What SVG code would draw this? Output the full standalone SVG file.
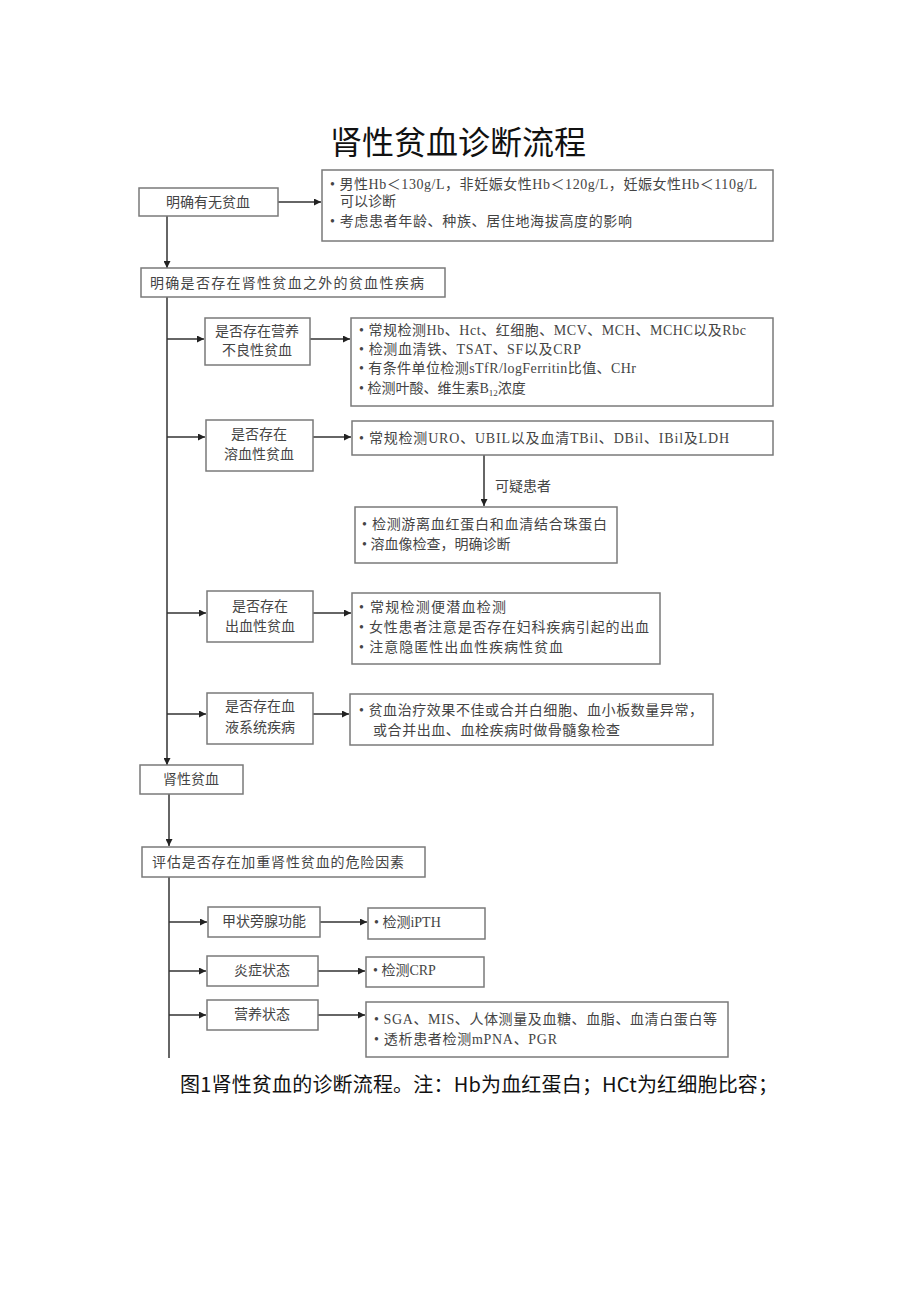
<svg xmlns="http://www.w3.org/2000/svg" width="920" height="1301" viewBox="0 0 920 1301">
<defs>
<marker id="ah" viewBox="0 0 10 10" refX="10" refY="5" markerWidth="7" markerHeight="7" orient="auto" markerUnits="userSpaceOnUse">
<path d="M0,0 L10,5 L0,10 z" fill="#222"/>
</marker>
<style>
.box{fill:#fff;stroke:#7a7a7a;stroke-width:1.5}
.t{font-family:"Liberation Serif","Noto Sans CJK SC",serif;font-size:14px;fill:#444}
.c{text-anchor:middle}
.ln{stroke:#333;stroke-width:1.5;fill:none}
.ar{stroke:#333;stroke-width:1.5;fill:none;marker-end:url(#ah)}
</style>
</defs>
<rect width="920" height="1301" fill="#fff"/>
<text x="458" y="154" text-anchor="middle" font-family="'Noto Sans CJK SC',sans-serif" font-size="32" fill="#111">肾性贫血诊断流程</text>

<g id="connectors">
<line class="ar" x1="278" y1="202" x2="321" y2="202"/>
<line class="ar" x1="167" y1="216" x2="167" y2="268"/>
<line class="ln" x1="167" y1="297" x2="167" y2="740"/>
<line class="ar" x1="167" y1="740" x2="167" y2="765"/>
<line class="ar" x1="167" y1="339" x2="204" y2="339"/>
<line class="ar" x1="310" y1="339" x2="350" y2="339"/>
<line class="ar" x1="167" y1="437" x2="205" y2="437"/>
<line class="ar" x1="313" y1="437" x2="351" y2="437"/>
<line class="ar" x1="484" y1="455" x2="484" y2="506"/>
<line class="ar" x1="167" y1="613" x2="206" y2="613"/>
<line class="ar" x1="313" y1="613" x2="351" y2="613"/>
<line class="ar" x1="167" y1="714" x2="206" y2="714"/>
<line class="ar" x1="313" y1="714" x2="349" y2="714"/>
<line class="ar" x1="169" y1="794" x2="169" y2="846"/>
<line class="ln" x1="169" y1="877" x2="169" y2="1058"/>
<line class="ar" x1="169" y1="922" x2="207" y2="922"/>
<line class="ar" x1="320" y1="922" x2="367" y2="922"/>
<line class="ar" x1="169" y1="971" x2="206" y2="971"/>
<line class="ar" x1="318" y1="971" x2="365" y2="971"/>
<line class="ar" x1="169" y1="1015" x2="206" y2="1015"/>
<line class="ar" x1="318" y1="1015" x2="365" y2="1015"/>
<text class="t" x="495" y="491">可疑患者</text>
</g>

<g id="n1"><rect class="box" x="139" y="188" width="139" height="28"/><text class="t c" x="208" y="207">明确有无贫血</text></g>
<g id="n2"><rect class="box" x="322" y="170" width="451" height="71"/>
<text class="t" x="330" y="189" textLength="427" lengthAdjust="spacing">• 男性Hb＜130g/L，非妊娠女性Hb＜120g/L，妊娠女性Hb＜110g/L</text>
<text class="t" x="340" y="206">可以诊断</text>
<text class="t" x="330" y="226" textLength="302" lengthAdjust="spacing">• 考虑患者年龄、种族、居住地海拔高度的影响</text></g>
<g id="n3"><rect class="box" x="141" y="268" width="304" height="29"/><text class="t" x="150" y="288" textLength="274" lengthAdjust="spacing">明确是否存在肾性贫血之外的贫血性疾病</text></g>

<g id="n4"><rect class="box" x="205" y="318" width="105" height="47"/><text class="t c" x="257" y="336">是否存在营养</text><text class="t c" x="257" y="355">不良性贫血</text></g>
<g id="n5"><rect class="box" x="351" y="318" width="422" height="88"/>
<text class="t" x="359" y="335" textLength="387" lengthAdjust="spacing">• 常规检测Hb、Hct、红细胞、MCV、MCH、MCHC以及Rbc</text>
<text class="t" x="359" y="354" textLength="222" lengthAdjust="spacing">• 检测血清铁、TSAT、SF以及CRP</text>
<text class="t" x="359" y="373" textLength="277" lengthAdjust="spacing">• 有条件单位检测sTfR/logFerritin比值、CHr</text>
<text class="t" x="359" y="393">• 检测叶酸、维生素B<tspan font-size="9" dy="3">12</tspan><tspan dy="-3">浓度</tspan></text></g>

<g id="n6"><rect class="box" x="206" y="420" width="107" height="51"/><text class="t c" x="259" y="439">是否存在</text><text class="t c" x="259" y="459">溶血性贫血</text></g>
<g id="n7"><rect class="box" x="352" y="421" width="421" height="34"/>
<text class="t" x="359" y="443" textLength="370" lengthAdjust="spacing">• 常规检测URO、UBIL以及血清TBil、DBil、IBil及LDH</text></g>
<g id="n8"><rect class="box" x="355" y="507" width="262" height="56"/>
<text class="t" x="362" y="529" textLength="245" lengthAdjust="spacing">• 检测游离血红蛋白和血清结合珠蛋白</text>
<text class="t" x="362" y="549">• 溶血像检查，明确诊断</text></g>

<g id="n9"><rect class="box" x="207" y="591" width="106" height="51"/><text class="t c" x="260" y="611">是否存在</text><text class="t c" x="260" y="631">出血性贫血</text></g>
<g id="n10"><rect class="box" x="352" y="593" width="308" height="71"/>
<text class="t" x="359" y="612" textLength="147" lengthAdjust="spacing">• 常规检测便潜血检测</text>
<text class="t" x="359" y="632" textLength="290" lengthAdjust="spacing">• 女性患者注意是否存在妇科疾病引起的出血</text>
<text class="t" x="359" y="652" textLength="204" lengthAdjust="spacing">• 注意隐匿性出血性疾病性贫血</text></g>

<g id="n11"><rect class="box" x="207" y="693" width="106" height="51"/><text class="t c" x="260" y="711">是否存在血</text><text class="t c" x="260" y="732">液系统疾病</text></g>
<g id="n12"><rect class="box" x="350" y="694" width="363" height="51"/>
<text class="t" x="359" y="715" textLength="344" lengthAdjust="spacing">• 贫血治疗效果不佳或合并白细胞、血小板数量异常，</text>
<text class="t" x="373" y="735" textLength="247" lengthAdjust="spacing">或合并出血、血栓疾病时做骨髓象检查</text></g>

<g id="n13"><rect class="box" x="140" y="765" width="103" height="29"/><text class="t c" x="191" y="784">肾性贫血</text></g>
<g id="n14"><rect class="box" x="142" y="847" width="283" height="30"/><text class="t" x="152" y="867" textLength="252" lengthAdjust="spacing">评估是否存在加重肾性贫血的危险因素</text></g>

<g id="n15"><rect class="box" x="208" y="907" width="112" height="30"/><text class="t c" x="264" y="926">甲状旁腺功能</text></g>
<g id="n16"><rect class="box" x="368" y="908" width="117" height="31"/><text class="t" x="374" y="927">• 检测iPTH</text></g>
<g id="n17"><rect class="box" x="207" y="956" width="111" height="30"/><text class="t c" x="262" y="975">炎症状态</text></g>
<g id="n18"><rect class="box" x="366" y="957" width="118" height="30"/><text class="t" x="373" y="975">• 检测CRP</text></g>
<g id="n19"><rect class="box" x="207" y="1000" width="111" height="30"/><text class="t c" x="262" y="1019">营养状态</text></g>
<g id="n20"><rect class="box" x="366" y="1002" width="362" height="55"/>
<text class="t" x="374" y="1024" textLength="343" lengthAdjust="spacing">• SGA、MIS、人体测量及血糖、血脂、血清白蛋白等</text>
<text class="t" x="374" y="1044" textLength="183" lengthAdjust="spacing">• 透析患者检测mPNA、PGR</text></g>

<text x="180" y="1092" font-family="'Noto Sans CJK SC',sans-serif" font-size="20" fill="#111" textLength="598" lengthAdjust="spacing">图1肾性贫血的诊断流程。注：Hb为血红蛋白；HCt为红细胞比容；</text>
</svg>
